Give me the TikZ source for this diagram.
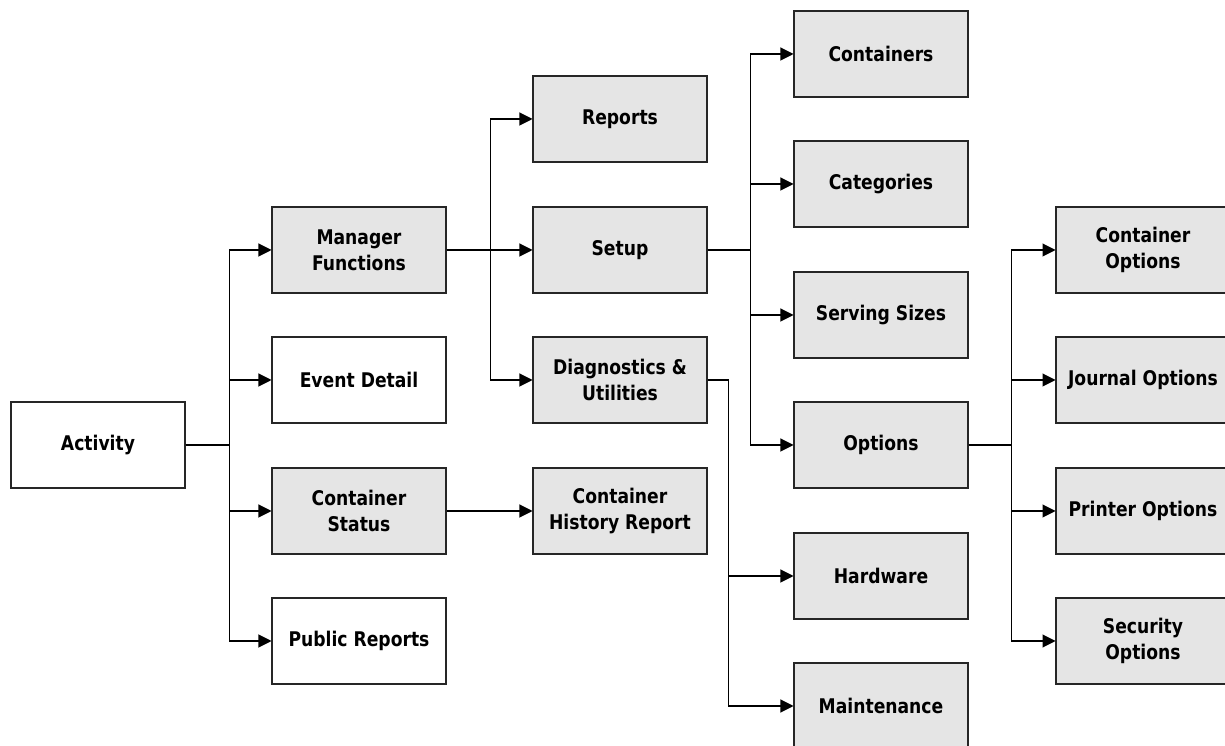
\documentclass[tikz,border=0pt]{standalone}
\usepackage{fontspec}
\usepackage{tikz}
\usetikzlibrary{arrows.meta}
\newfontfamily\boxfont{DejaVu Sans}[FakeStretch=0.85]
\definecolor{boxgrey}{RGB}{229,229,229}

\begin{document}
\begin{tikzpicture}[x=0.02cm,y=-0.02cm,line width=0.6pt,
    font=\boxfont\bfseries\fontsize{11.5}{14.7}\selectfont,
    menu/.style={draw=black!85,fill=white,minimum width=3.48cm,minimum height=1.72cm,
      inner sep=1pt,align=center},
    grey/.style={menu,fill=boxgrey},
    arr/.style={-{Triangle[length=0.26cm,width=0.26cm]}}]
  \useasboundingbox (0,0) rectangle (1225,746);
  % left column
  \node[menu] (act) at (98,445) {Activity};
  \node[grey] (mgr) at (359,250) {Manager\\Functions};
  \node[menu] (evt) at (359,380) {Event Detail};
  \node[grey] (cst) at (359,511) {Container\\Status};
  \node[menu] (pub) at (359,641) {Public Reports};
  % manager functions
  \node[grey] (rep) at (620,119) {Reports};
  \node[grey] (setup) at (620,250) {Setup};
  \node[grey] (diag) at (620,380) {Diagnostics \&\\Utilities};
  \node[grey] (hist) at (620,511) {Container\\History Report};
  % setup items
  \node[grey] (cont) at (881,54) {Containers};
  \node[grey] (cat) at (881,184) {Categories};
  \node[grey] (serv) at (881,315) {Serving Sizes};
  \node[grey] (opt) at (881,445) {Options};
  \node[grey] (hw) at (881,576) {Hardware};
  \node[grey] (maint) at (881,706) {Maintenance};
  % options, running off the right side
  \node[grey] (copt) at (1143,250) {Container\\Options};
  \node[grey] (jopt) at (1143,380) {Journal Options};
  \node[grey] (popt) at (1143,511) {Printer Options};
  \node[grey] (sopt) at (1143,641) {Security\\Options};

  \foreach \n in {mgr,evt,cst,pub}{\draw[arr] (act.east) -- ++(44,0) |- (\n.west);}
  \foreach \n in {rep,setup,diag}{\draw[arr] (mgr.east) -- ++(44,0) |- (\n.west);}
  \draw[arr] (cst.east) -- (hist.west);
  \foreach \n in {cont,cat,serv,opt}{\draw[arr] (setup.east) -- ++(43,0) |- (\n.west);}
  \foreach \n in {hw,maint}{\draw[arr] (diag.east) -- ++(21,0) |- (\n.west);}
  \foreach \n in {copt,jopt,popt,sopt}{\draw[arr] (opt.east) -- ++(43,0) |- (\n.west);}
\end{tikzpicture}
\end{document}
